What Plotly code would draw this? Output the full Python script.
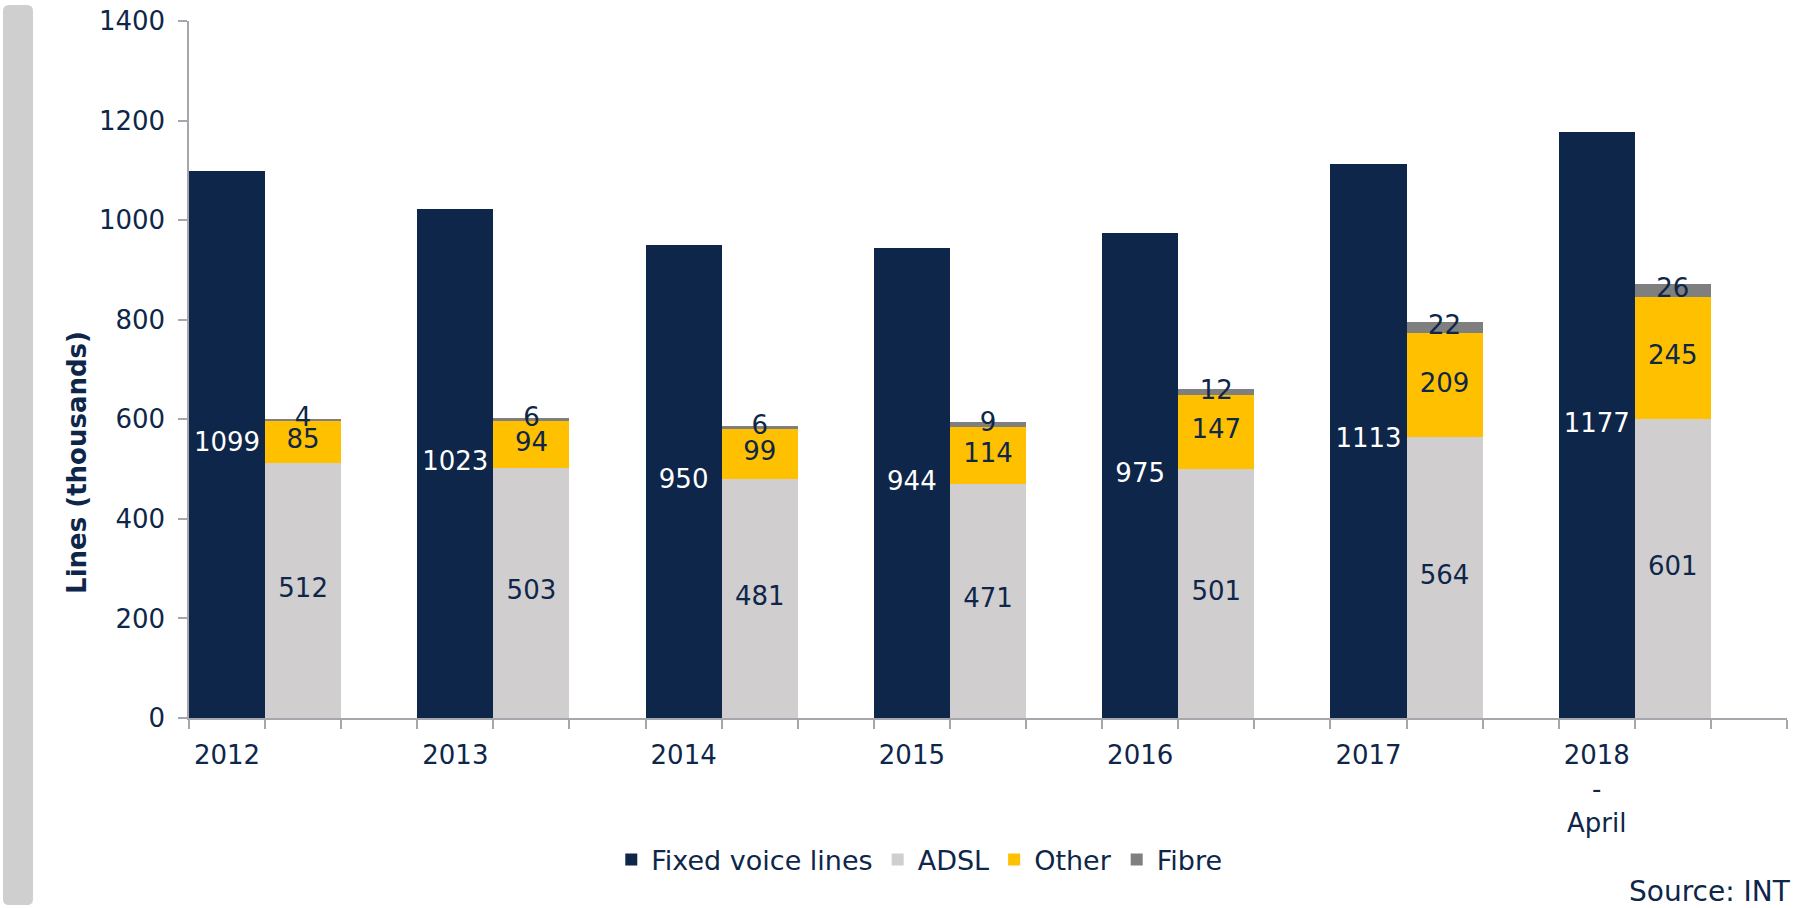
import plotly.graph_objects as go

years = ["2012", "2013", "2014", "2015", "2016", "2017", "2018<br>-<br>April"]
fixed_voice = [1099, 1023, 950, 944, 975, 1113, 1177]
adsl = [512, 503, 481, 471, 501, 564, 601]
other = [85, 94, 99, 114, 147, 209, 245]
fibre = [4, 6, 6, 9, 12, 22, 26]

NAVY = "#0e2649"
GREY = "#d0cecf"
YELLOW = "#ffc000"
DARKGREY = "#7f7f7f"
AXIS = "#a6a6ad"
FONT = "DejaVu Sans"
FS = 26

n = len(years)
x_fixed = [3 * i + 0.5 for i in range(n)]
x_stack = [3 * i + 1.5 for i in range(n)]

fig = go.Figure()
fig.add_trace(go.Bar(x=x_fixed, y=fixed_voice, width=1, name="Fixed voice lines",
                     marker=dict(color=NAVY, line=dict(width=0))))
fig.add_trace(go.Bar(x=x_stack, y=adsl, width=1, name="ADSL",
                     marker=dict(color=GREY, line=dict(width=0))))
fig.add_trace(go.Bar(x=x_stack, y=other, width=1, name="Other",
                     marker=dict(color=YELLOW, line=dict(width=0))))
fig.add_trace(go.Bar(x=x_stack, y=fibre, width=1, name="Fibre",
                     marker=dict(color=DARKGREY, line=dict(width=0))))

# data labels
fig.add_trace(go.Scatter(x=x_fixed, y=[v / 2 for v in fixed_voice], mode="text",
                         text=[str(v) for v in fixed_voice],
                         textfont=dict(color="white", size=FS, family=FONT),
                         showlegend=False, hoverinfo="skip"))
fig.add_trace(go.Scatter(x=x_stack, y=[a / 2 for a in adsl], mode="text",
                         text=[str(v) for v in adsl],
                         textfont=dict(color=NAVY, size=FS, family=FONT),
                         showlegend=False, hoverinfo="skip"))
fig.add_trace(go.Scatter(x=x_stack, y=[a + o / 2 for a, o in zip(adsl, other)], mode="text",
                         text=[str(v) for v in other],
                         textfont=dict(color=NAVY, size=FS, family=FONT),
                         showlegend=False, hoverinfo="skip"))
fig.add_trace(go.Scatter(x=x_stack, y=[a + o + f / 2 for a, o, f in zip(adsl, other, fibre)], mode="text",
                         text=[str(v) for v in fibre],
                         textfont=dict(color=NAVY, size=FS, family=FONT),
                         showlegend=False, hoverinfo="skip"))

L, R, T, B = 189, 10, 21, 190
fig.update_layout(
    width=1797, height=908,
    margin=dict(l=L, r=R, t=T, b=B, pad=0, autoexpand=False),
    paper_bgcolor="white", plot_bgcolor="white",
    barmode="stack", bargap=0,
    font=dict(family=FONT, size=FS, color=NAVY),
    showlegend=True,
    legend=dict(orientation="h", x=0.457, xanchor="center", y=-0.2037, yanchor="middle",
                font=dict(size=27, color=NAVY, family=FONT), traceorder="normal",
                tracegroupgap=0, bgcolor="rgba(0,0,0,0)"),
    xaxis=dict(range=[0, 3 * n], tickvals=x_fixed, ticktext=years, ticks="",
               showgrid=False, zeroline=False, showline=True, linecolor=AXIS, linewidth=2,
               tickfont=dict(size=FS, color=NAVY, family=FONT), ticklabelstandoff=13,
               minor=dict(tickvals=list(range(0, 3 * n + 1)), ticks="outside", ticklen=9,
                          tickcolor=AXIS, tickwidth=1.5, showgrid=False),
               automargin=False, fixedrange=True),
    yaxis=dict(range=[0, 1400], tickvals=[0, 200, 400, 600, 800, 1000, 1200, 1400],
               ticks="outside", ticklen=9, tickcolor=AXIS, tickwidth=1.5,
               showgrid=False, zeroline=False, showline=True, linecolor=AXIS, linewidth=1.5,
               tickfont=dict(size=FS, color=NAVY, family=FONT), ticklabelstandoff=8,
               automargin=False, fixedrange=True),
)

# y-axis title (placed lower than centre, as in the reference)
fig.add_annotation(text="<b>Lines (thousands)</b>", xref="paper", yref="paper", x=0, y=0.366,
                   xanchor="center", yanchor="middle", xshift=-112, textangle=-90,
                   showarrow=False, font=dict(size=26, color=NAVY, family=FONT))

# rounded grey side bar at left (pixel coordinates relative to plot's bottom-left corner)
x0, x1 = 3 - L, 33 - L
y_top, y_bot = 718 - 5, 718 - 905
r = 6
path = (f"M {x0 + r},{y_top} L {x1 - r},{y_top} Q {x1},{y_top} {x1},{y_top - r} "
        f"L {x1},{y_bot + r} Q {x1},{y_bot} {x1 - r},{y_bot} L {x0 + r},{y_bot} "
        f"Q {x0},{y_bot} {x0},{y_bot + r} L {x0},{y_top - r} Q {x0},{y_top} {x0 + r},{y_top} Z")
fig.add_shape(type="path", path=path, xref="paper", yref="paper", xsizemode="pixel",
              ysizemode="pixel", xanchor=0, yanchor=0, fillcolor="#d0cfd0",
              line=dict(width=0), layer="below")

fig.add_annotation(text="Source: INT", xref="paper", yref="paper", x=1.0, y=-0.2496,
                   xanchor="right", yanchor="middle", showarrow=False, xshift=6,
                   font=dict(size=28, color=NAVY, family=FONT))

fig.write_html("out.html", config={"displayModeBar": False},
               post_script="document.body.style.margin='0';document.body.style.overflow='hidden';")
